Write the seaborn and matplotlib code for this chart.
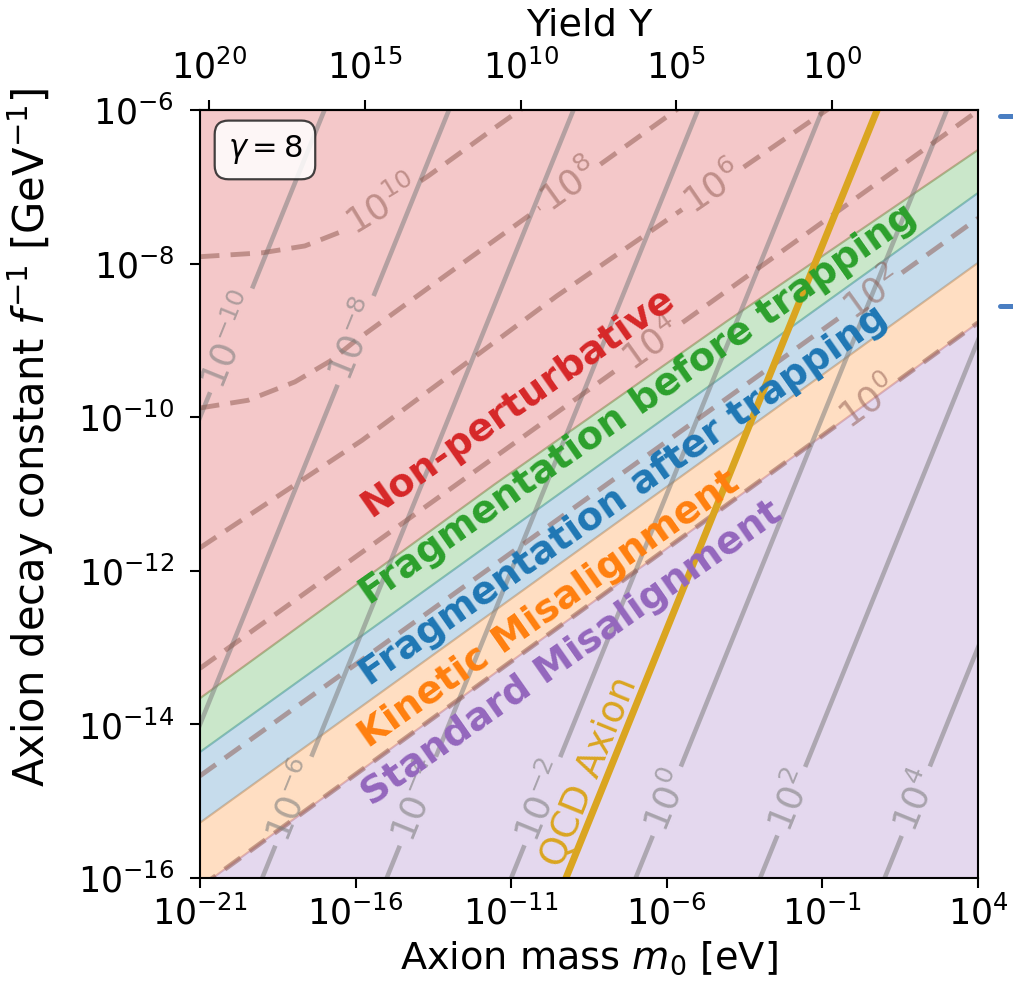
import numpy as np
import pandas as pd
import matplotlib
matplotlib.use("Agg")
import matplotlib.pyplot as plt
import seaborn as sns
from matplotlib.ticker import NullLocator
from matplotlib.lines import Line2D

# ---------------- data ----------------
mass_limits = [1e-21, 1e4]            # eV
finv_limits = [1e-16, 1e-6]           # GeV^-1
mass_ticks = [1e-21, 1e-16, 1e-11, 1e-6, 1e-1, 1e4]
finv_ticks = [1e-16, 1e-14, 1e-12, 1e-10, 1e-8, 1e-6]
yield_ticks = [1e20, 1e15, 1e10, 1e5, 1e0]
yield_mass_scale = 0.2                # eV, Y = 0.2 eV / m0
gamma_value = 8

# regime boundaries (log10 m0, log10 1/f)
bound_np_logm = [-21.0, -11.52, -4.07, 4.0]
bound_np_logf = [-13.66, -10.87, -8.75, -6.52]
bound_fb_logm = [-21.0, 4.0]
bound_fb_logf = [-14.36, -7.08]
bound_fa_logm = [-21.0, 4.0]
bound_fa_logf = [-15.28, -7.99]
bound_km_logm = [-21.0, 4.0]
bound_km_logf = [-16.12, -8.77]

regime_names = ["Non-perturbative", "Fragmentation before trapping",
                "Fragmentation after trapping", "Kinetic Misalignment",
                "Standard Misalignment"]
regime_colors = ["tab:red", "tab:green", "tab:blue", "tab:orange", "tab:purple"]
regime_text_logm = [-15.50, -15.55, -15.55, -15.60, -15.50]
regime_text_logf = [-11.30, -12.45, -13.50, -14.31, -15.07]

# solid grey contours
grey_levels = [-10, -8, -6, -4, -2, 0, 2, 4]
grey_logm_bottom = [-27, -23, -19, -15, -11, -7, -3, 1]   # at 1/f = 1e-16
grey_logm_top = [-17, -13, -9, -5, -1, 3, 7, 11]           # at 1/f = 1e-6
grey_label_logf = [-9, -9, -15, -15, -15, -15, -15, -15]

# dashed contours
dashed_levels = [10, 8, 6, 4, 2, 0]
dashed_logm = [
    [-21.0, -19.01, -17.63, -16.50, -15.12, -13.67, -11.52, -9.91],
    [-21.0, -19.46, -17.95, -16.82, -16.02, -13.13, -9.11, -5.80, -4.93],
    [-21.0, -15.79, -9.53, -4.52, -0.43],
    [-21.0, 4.0],
    [-21.0, 4.0],
    [-21.0, 4.0],
]
dashed_logf = [
    [-7.91, -7.86, -7.77, -7.59, -7.25, -6.86, -6.23, -5.77],
    [-9.88, -9.78, -9.54, -9.27, -9.01, -8.16, -6.99, -6.03, -5.78],
    [-11.70, -10.30, -8.42, -7.02, -5.88],
    [-13.27, -6.01],
    [-14.67, -7.41],
    [-16.12, -8.77],
]
dashed_label_logm = [-15.12, -9.11, -4.52, -6.48, 0.59, 0.47]
dashed_label_logf = [-7.25, -6.99, -7.02, -9.05, -8.40, -9.80]

# QCD axion line
qcd_logm = [-9.24, 0.76]
qcd_logf = [-16.0, -6.0]
qcd_label_logm = -8.47
qcd_label_logf = -14.62

# ---------------- style ----------------
sns.set_style("ticks")
plt.rcParams.update({
    "font.family": ["DejaVu Sans"],
    "axes.edgecolor": "black", "text.color": "black",
    "xtick.color": "black", "ytick.color": "black",
    "axes.labelcolor": "black", "axes.linewidth": 1.5,
    "mathtext.fontset": "dejavusans",
})

W, H = 1013, 988
fig = plt.figure(figsize=(W / 100, H / 100), dpi=100)
ax = fig.add_axes([200 / W, 1 - 878 / H, 778 / W, 768 / H])
ax.set_xscale("log")
ax.set_yscale("log")
ax.set_xlim(mass_limits)
ax.set_ylim(finv_limits)
ax.set_autoscale_on(False)
renderer = fig.canvas.get_renderer()

P = lambda a: 10.0 ** np.asarray(a, dtype=float)

# ---------------- regime fills ----------------
top_logm, top_logf = [-21.0, 4.0], [-6.0, -6.0]
bot_logm, bot_logf = [-21.0, 4.0], [-16.0, -16.0]
bounds = [(top_logm, top_logf), (bound_np_logm, bound_np_logf),
          (bound_fb_logm, bound_fb_logf), (bound_fa_logm, bound_fa_logf),
          (bound_km_logm, bound_km_logf), (bot_logm, bot_logf)]
for k, col in enumerate(regime_colors):
    um, uf = bounds[k]
    lm, lf = bounds[k + 1]
    xs = np.concatenate([P(lm), P(um)[::-1]])
    ys = np.concatenate([P(lf), P(uf)[::-1]])
    ax.fill(xs, ys, facecolor=col, edgecolor=col, alpha=0.25, lw=1.5, zorder=1)


def line_with_label(logm, logf, lab_logm, lab_logf, text, fontsize, tcolor,
                    talpha, line_kw, extra=6, tz=4):
    pts = ax.transData.transform(np.column_stack([P(logm), P(logf)]))
    lab = ax.transData.transform([[10.0 ** lab_logm, 10.0 ** lab_logf]])[0]
    seg = np.diff(pts, axis=0)
    seglen = np.hypot(seg[:, 0], seg[:, 1])
    cum = np.concatenate([[0.0], np.cumsum(seglen)])
    best = (np.inf, 0.0, 0)
    for i in range(len(seg)):
        t = np.clip(np.dot(lab - pts[i], seg[i]) / seglen[i] ** 2, 0, 1)
        p = pts[i] + t * seg[i]
        d = np.hypot(*(p - lab))
        if d < best[0]:
            best = (d, cum[i] + t * seglen[i], i)
    _, s0, i0 = best

    def at(s):
        return np.array([np.interp(s, cum, pts[:, 0]), np.interp(s, cum, pts[:, 1])])

    ang = np.degrees(np.arctan2(seg[i0][1], seg[i0][0]))
    if ang > 90:
        ang -= 180
    if ang < -90:
        ang += 180
    tmp = fig.text(0, 0, text, fontsize=fontsize)
    w = tmp.get_window_extent(renderer).width
    tmp.remove()
    half = w / 2 + extra
    s1, s2 = s0 - half, s0 + half
    inv = ax.transData.inverted()
    parts = []
    if s1 > 0:
        parts.append(np.vstack([pts[cum < s1], at(s1)]))
    if s2 < cum[-1]:
        parts.append(np.vstack([at(s2), pts[cum > s2]]))
    for part in parts:
        d = inv.transform(part)
        ax.plot(d[:, 0], d[:, 1], **line_kw)
    c = inv.transform([at(s0)])[0]
    ax.text(c[0], c[1], text, fontsize=fontsize, color=tcolor, alpha=talpha,
            rotation=ang, rotation_mode="anchor", ha="center", va="center",
            zorder=tz)


# ---------------- grey solid contours ----------------
grey_kw = dict(color="gray", alpha=0.55, lw=3.3, solid_capstyle="butt", zorder=2)
for lev, mb, mt, lf in zip(grey_levels, grey_logm_bottom, grey_logm_top, grey_label_logf):
    lm_lab = mb + (lf + 16.0) * (mt - mb) / 10.0
    line_with_label([mb, mt], [-16.0, -6.0], lm_lab, lf, r"$10^{%d}$" % lev,
                    26, "gray", 0.6, grey_kw, extra=6)

# ---------------- brown dashed contours ----------------
dash_kw = dict(color="tab:brown", alpha=0.5, lw=3.5, linestyle=(0, (4, 2.3)),
               dash_capstyle="butt", zorder=3)
for lev, lms, lfs, a, b in zip(dashed_levels, dashed_logm, dashed_logf,
                               dashed_label_logm, dashed_label_logf):
    line_with_label(lms, lfs, a, b, r"$10^{%d}$" % lev, 26, "tab:brown", 0.5,
                    dash_kw, extra=6)

# ---------------- QCD axion ----------------
qcd_df = pd.DataFrame({"m": P(qcd_logm), "finv": P(qcd_logf)})
sns.lineplot(data=qcd_df, x="m", y="finv", ax=ax, color="goldenrod", lw=5,
             sort=False, estimator=None, zorder=4)
qp = ax.transData.transform(np.column_stack([P(qcd_logm), P(qcd_logf)]))
qang = np.degrees(np.arctan2(qp[1, 1] - qp[0, 1], qp[1, 0] - qp[0, 0]))
ax.text(10 ** qcd_label_logm, 10 ** qcd_label_logf, "QCD Axion", fontsize=27,
        color="goldenrod", rotation=qang, rotation_mode="anchor",
        ha="center", va="center", zorder=5)

# ---------------- regime labels ----------------
for name, col, a, b in zip(regime_names, regime_colors, regime_text_logm, regime_text_logf):
    ax.text(10 ** a, 10 ** b, name, fontsize=27.5, fontweight="bold", color=col,
            rotation=35, rotation_mode="anchor", ha="left", va="baseline",
            zorder=6)

# ---------------- gamma box ----------------
ax.text(0.0835, 0.948, r"$\gamma = %d$" % gamma_value, transform=ax.transAxes,
        fontsize=22, ha="center", va="center", zorder=7,
        bbox=dict(boxstyle="round,pad=0.42,rounding_size=0.45", fc="white",
                  ec="#222222", lw=1.6, alpha=0.85))

# ---------------- axes ----------------
ax.set_xticks(mass_ticks)
ax.set_yticks(finv_ticks)
ax.xaxis.set_minor_locator(NullLocator())
ax.yaxis.set_minor_locator(NullLocator())
ax.tick_params(which="major", direction="out", length=7.5, width=1.5,
               labelsize=25)
ax.tick_params(axis="x", pad=5)
ax.tick_params(axis="y", pad=11)
ax.set_xlabel(r"Axion mass $m_0$ [eV]", fontsize=27.5, labelpad=6)
ax.set_ylabel(r"Axion decay constant $f^{-1}$ [GeV$^{-1}$]", fontsize=30)
ax.yaxis.set_label_coords(-0.185, 0.574)

sec = ax.secondary_xaxis(
    "top",
    functions=(lambda m: yield_mass_scale / np.maximum(np.asarray(m, float), 1e-300),
               lambda y: yield_mass_scale / np.maximum(np.asarray(y, float), 1e-300)))
sec.set_xticks(yield_ticks)
sec.xaxis.set_minor_locator(NullLocator())
sec.tick_params(which="major", direction="out", length=7.5, width=1.5,
                labelsize=25, pad=10)
sec.set_xlabel("Yield Y", fontsize=27.5, labelpad=10)

for s in ax.spines.values():
    s.set_linewidth(1.5)
    s.set_zorder(10)

# fragments of the neighbouring panel visible at the right edge
for yy in (116, 306):
    fig.add_artist(Line2D([1000 / W, 1.0], [1 - yy / H, 1 - yy / H],
                          transform=fig.transFigure, color="#4a7ec2", lw=3.6))

fig.savefig("out.png", dpi=100)
